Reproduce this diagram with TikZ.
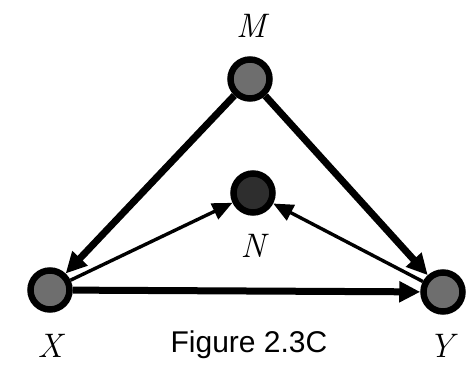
\documentclass[tikz,border=0pt]{standalone}
\usepackage{fontspec}
\newfontfamily\figfont{Liberation Sans}
\usetikzlibrary{arrows.meta}
\definecolor{nodegray}{HTML}{6E6E6E}
\definecolor{nodedark}{HTML}{2E2E2E}
\begin{document}
\begin{tikzpicture}[x=1pt,y=-1pt,
  var/.style={circle,draw=black,line width=6.5pt,fill=nodegray,minimum size=39pt,inner sep=0pt},
  darkvar/.style={var,fill=nodedark},
  lbl/.style={font=\fontsize{34}{38}\selectfont\itshape},
  thick arrow/.style={line width=7pt,-{Triangle[length=21pt,width=20pt]}},
  thin arrow/.style={line width=3.4pt,-{Triangle[length=20pt,width=17pt]}}]
\useasboundingbox (0,0) rectangle (466,366);
\node[var] (M) at (250,79) {};
\node[darkvar] (N) at (253,193) {};
\node[var] (X) at (50,290) {};
\node[var] (Y) at (443,292) {};
\node[lbl] (lM) at (251,26) {M};
\node[lbl] (lN) at (253,246) {N};
\node[lbl] (lX) at (50,346) {X};
\node[lbl] (lY) at (441,346) {Y};
\node[font=\figfont\fontsize{30}{34}\selectfont] (cap) at (249,345) {Figure 2.3C};
\draw[thick arrow] (M) -- (X);
\draw[thick arrow] (M) -- (Y);
\draw[thick arrow] (X) -- (Y);
\draw[thin arrow] (X) -- (N);
\draw[thin arrow] (Y) -- (N);
\end{tikzpicture}
\end{document}
